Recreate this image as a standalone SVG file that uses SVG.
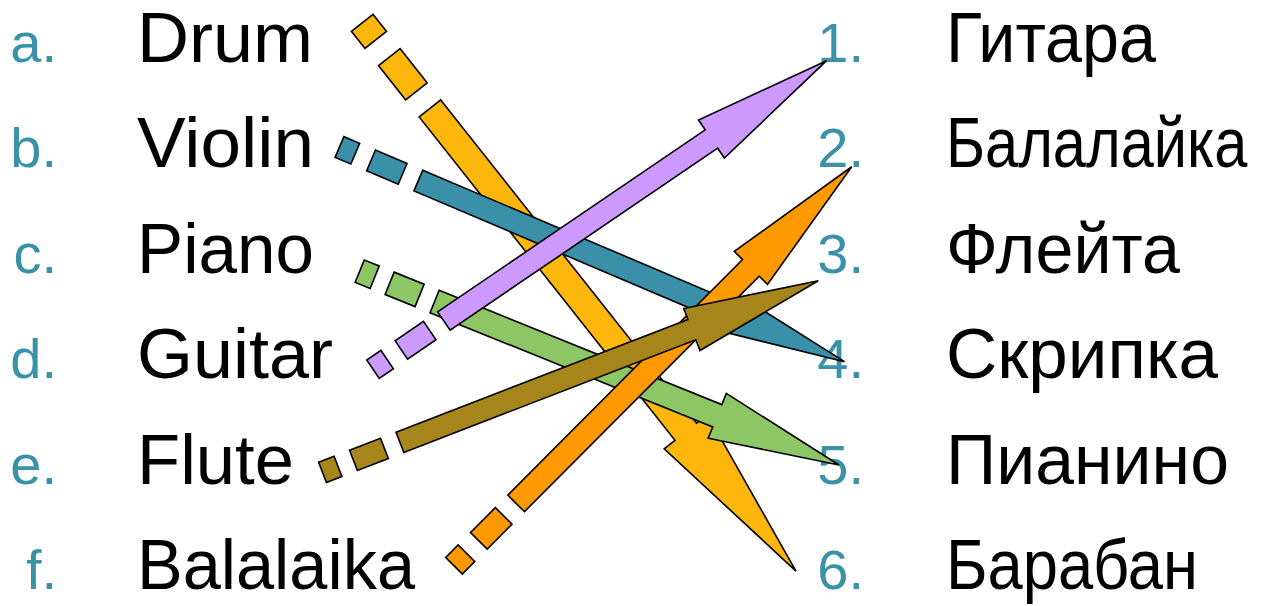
<svg xmlns="http://www.w3.org/2000/svg" width="1261" height="606" viewBox="0 0 1261 606">
<style>
.lbl{font-family:"Liberation Sans",Arial,sans-serif;font-size:56px;fill:#3A92A8;text-anchor:end}
.name{font-family:"Liberation Sans",Arial,sans-serif;font-size:70px;fill:#000}
.arr{stroke:#000;stroke-width:1.6;stroke-linejoin:miter}
.y{fill:#FDB60C}.t{fill:#3A90A8}.g{fill:#8DC664}.p{fill:#CC99FF}.o{fill:#FF9900}.b{fill:#A6861A}
</style>
<rect width="1261" height="606" fill="#fff"/>
<g id="item-a"><text class="lbl" x="57" y="62">a.</text><text class="name" x="137" y="62" textLength="176" lengthAdjust="spacingAndGlyphs">Drum</text></g>
<g id="item-b"><text class="lbl" x="57" y="167">b.</text><text class="name" x="137" y="167" textLength="177" lengthAdjust="spacingAndGlyphs">Violin</text></g>
<g id="item-c"><text class="lbl" x="57" y="273">c.</text><text class="name" x="137" y="273" textLength="177" lengthAdjust="spacingAndGlyphs">Piano</text></g>
<g id="item-d"><text class="lbl" x="57" y="378">d.</text><text class="name" x="137" y="378" textLength="196" lengthAdjust="spacingAndGlyphs">Guitar</text></g>
<g id="item-e"><text class="lbl" x="57" y="484">e.</text><text class="name" x="137" y="484" textLength="157" lengthAdjust="spacingAndGlyphs">Flute</text></g>
<g id="item-f"><text class="lbl" x="57" y="589">f.</text><text class="name" x="137" y="589" textLength="278" lengthAdjust="spacingAndGlyphs">Balalaika</text></g>
<g id="target-1"><text class="lbl" x="864" y="62">1.</text><text class="name" x="946" y="62" textLength="210" lengthAdjust="spacingAndGlyphs">Гитара</text></g>
<g id="target-2"><text class="lbl" x="864" y="167">2.</text><text class="name" transform="translate(946,167) scale(0.85,1)" x="0" y="0">Балалайка</text></g>
<g id="target-3"><text class="lbl" x="864" y="273">3.</text><text class="name" x="946" y="273" textLength="234" lengthAdjust="spacingAndGlyphs">Флейта</text></g>
<g id="target-4"><text class="lbl" x="864" y="378">4.</text><text class="name" x="946" y="378" textLength="272" lengthAdjust="spacingAndGlyphs">Скрипка</text></g>
<g id="target-5"><text class="lbl" x="864" y="484">5.</text><text class="name" x="946" y="484" textLength="283" lengthAdjust="spacingAndGlyphs">Пианино</text></g>
<g id="target-6"><text class="lbl" x="864" y="589">6.</text><text class="name" x="946" y="589" textLength="252" lengthAdjust="spacingAndGlyphs">Барабан</text></g>
<g id="connectors">
<g id="arrow-a-6" class="arr y" transform="translate(362.2,22.8) rotate(51.65)">
<rect x="0" y="-13.75" width="21.85" height="27.5"/><rect x="43.7" y="-13.75" width="43.7" height="27.5"/>
<polygon points="109.2,-13.75 521.5,-13.75 521.5,-27.5 699.1,0 521.5,27.5 521.5,13.75 109.2,13.75"/></g>
<g id="arrow-b-4" class="arr t" transform="translate(339.5,147) rotate(23.03)">
<rect x="0" y="-11.25" width="17.15" height="22.5"/><rect x="34.3" y="-11.25" width="34.3" height="22.5"/>
<polygon points="85.7,-11.25 409.3,-11.25 409.3,-22.5 548.7,0 409.3,22.5 409.3,11.25 85.7,11.25"/></g>
<g id="arrow-c-5" class="arr g" transform="translate(359.7,271.2) rotate(22.02)">
<rect x="0" y="-12.1" width="16.16" height="24.2"/><rect x="32.3" y="-12.1" width="32.3" height="24.2"/>
<polygon points="80.8,-12.1 385.7,-12.1 385.7,-24.2 517,0 385.7,24.2 385.7,12.1 80.8,12.1"/></g>
<g id="arrow-d-1" class="arr p" transform="translate(373,369.2) rotate(-34.22)">
<rect x="0" y="-11.1" width="17.14" height="22.2"/><rect x="34.3" y="-11.1" width="34.3" height="22.2"/>
<polygon points="85.7,-11.1 409.3,-11.1 409.3,-23 548.6,0 409.3,23 409.3,11.1 85.7,11.1"/></g>
<g id="arrow-f-2" class="arr o" transform="translate(454,565.7) rotate(-45.09)">
<rect x="0" y="-11.75" width="17.6" height="23.5"/><rect x="35.2" y="-11.75" width="35.2" height="23.5"/>
<polygon points="88,-11.75 420.5,-11.75 420.5,-23.4 563.3,0 420.5,23.4 420.5,11.75 88,11.75"/></g>
<g id="arrow-e-3" class="arr b" transform="translate(322.5,472.3) rotate(-21.13)">
<rect x="0" y="-10.85" width="16.6" height="21.7"/><rect x="33.2" y="-10.85" width="33.2" height="21.7"/>
<polygon points="83,-10.85 396,-10.85 396,-22.5 531.5,0 396,22.5 396,10.85 83,10.85"/></g>
</g>
</svg>
